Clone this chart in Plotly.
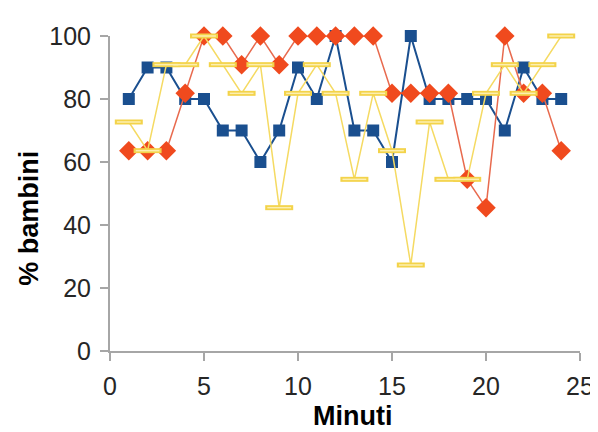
import plotly.graph_objects as go

minuti = list(range(1, 25))
serie_blu = [80, 90, 90, 80, 80, 70, 70, 60, 70, 90, 80, 100, 70, 70, 60, 100, 80, 80, 80, 80, 70, 90, 80, 80]
serie_rossa = [63.6, 63.6, 63.6, 81.8, 100, 100, 90.9, 100, 90.9, 100, 100, 100, 100, 100,
               81.8, 81.8, 81.8, 81.8, 54.5, 45.5, 100, 81.8, 81.8, 63.6]
serie_gialla = [72.7, 63.6, 90.9, 90.9, 100, 90.9, 81.8, 90.9, 45.5, 81.8, 90.9, 81.8, 54.5, 81.8,
                63.6, 27.3, 72.7, 54.5, 54.5, 81.8, 90.9, 81.8, 90.9, 100]
x_ticks = [0, 5, 10, 15, 20, 25]
y_ticks = [0, 20, 40, 60, 80, 100]

BLUE = "#1a4f8f"
RED = "#f04a1e"
YELLOW = "#f3d34a"

fig = go.Figure()
fig.add_trace(go.Scatter(
    x=minuti, y=serie_blu, mode="lines+markers",
    line=dict(color=BLUE, width=2),
    marker=dict(symbol="square", size=12, color=BLUE),
    showlegend=False))
fig.add_trace(go.Scatter(
    x=minuti, y=serie_rossa, mode="lines+markers",
    line=dict(color="#e86a4e", width=1.5),
    marker=dict(symbol="diamond", size=15, color=RED),
    showlegend=False))
fig.add_trace(go.Scatter(
    x=minuti, y=serie_gialla, mode="lines+markers",
    line=dict(color="#f5da62", width=1.5),
    marker=dict(symbol="line-ew", size=20, line=dict(color=YELLOW, width=5)),
    showlegend=False))
fig.add_trace(go.Scatter(
    x=minuti, y=serie_gialla, mode="markers",
    marker=dict(symbol="line-ew", size=17, line=dict(color="#fcefb0", width=1.5)),
    showlegend=False, hoverinfo="skip"))

tick_font = dict(family="Liberation Sans, Arial", size=25, color="#262626")
title_font = dict(family="Liberation Sans, Arial", size=27, color="#000000")

fig.update_layout(
    width=598, height=432,
    margin=dict(l=102, r=16, t=28, b=89),
    paper_bgcolor="white", plot_bgcolor="white",
    xaxis=dict(range=[0, 25], tickvals=x_ticks, showgrid=False, zeroline=False,
               showline=True, linecolor="#a6a6a6", linewidth=2,
               ticks="outside", ticklen=8, tickcolor="#a6a6a6", tickwidth=2,
               tickfont=tick_font, ticklabelstandoff=4),
    yaxis=dict(range=[0, 100], tickvals=y_ticks, showgrid=False, zeroline=False,
               showline=True, linecolor="#a6a6a6", linewidth=2,
               ticks="outside", ticklen=8, tickcolor="#a6a6a6", tickwidth=2,
               tickfont=tick_font, ticklabelstandoff=4),
    annotations=[
        dict(text="<b>Minuti</b>", xref="paper", yref="paper", x=0.515, y=-0.205,
             xanchor="center", yanchor="middle", showarrow=False, font=title_font),
        dict(text="<b>% bambini</b>", xref="paper", yref="paper", x=-0.172, y=0.42,
             xanchor="center", yanchor="middle", textangle=-90, showarrow=False,
             font=title_font),
    ],
)
for tr in fig.data:
    tr.cliponaxis = False

fig.write_html("out.html")
